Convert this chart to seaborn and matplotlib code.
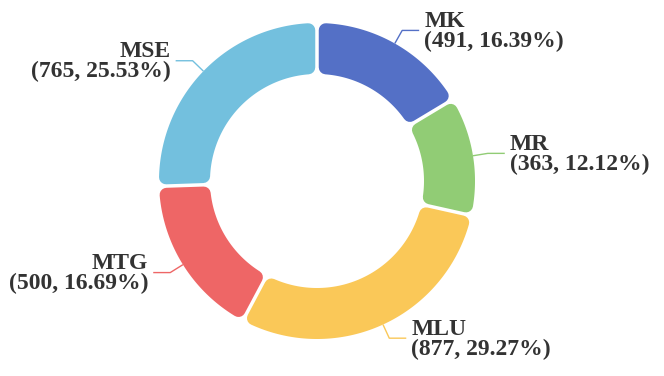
import numpy as np
import matplotlib
matplotlib.use('Agg')
import matplotlib.pyplot as plt
import seaborn as sns
from matplotlib.patches import Polygon

categories = ['MK', 'MR', 'MLU', 'MTG', 'MSE']
values = [491, 363, 877, 500, 765]
colors = ['#5470c6', '#91cc75', '#fac858', '#ee6666', '#73c0de']

sns.set_theme(style='white')
plt.rcParams['font.family'] = ['Liberation Serif', 'DejaVu Serif']

W, H = 664, 376
fig = plt.figure(figsize=(W / 100, H / 100), dpi=100)
ax = fig.add_axes([0, 0, 1, 1])

cx, cy = 317, H - 181
Ro, Ri = 158, 107
wedges, _ = ax.pie(values, colors=colors, startangle=90, counterclock=False,
                   radius=Ro, center=(cx, cy), frame=True,
                   wedgeprops=dict(width=Ro - Ri))
ax.set_xlim(0, W)
ax.set_ylim(0, H)
ax.set_aspect('equal')
ax.axis('off')

r = 7.0      # corner radius (px)
g = 3.5      # gap (px)
d = g / 2 + r
ro, ri = Ro - r, Ri + r
px2pt = 72 / 100

total = sum(values)
for w, c, name, v in zip(wedges, colors, categories, values):
    t1, t2 = np.radians(w.theta1), np.radians(w.theta2)
    w.set_visible(False)
    ao1, ao2 = t1 + np.arcsin(d / ro), t2 - np.arcsin(d / ro)
    ai1, ai2 = t1 + np.arcsin(d / ri), t2 - np.arcsin(d / ri)
    a_out = np.linspace(ao1, ao2, 120)
    a_in = np.linspace(ai2, ai1, 120)
    pts = np.vstack([
        np.column_stack([cx + ro * np.cos(a_out), cy + ro * np.sin(a_out)]),
        np.column_stack([cx + ri * np.cos(a_in), cy + ri * np.sin(a_in)]),
    ])
    ax.add_patch(Polygon(pts, closed=True, facecolor=c, edgecolor=c,
                         linewidth=2 * r * px2pt, joinstyle='round', zorder=2))

    # leader line
    tm = (t1 + t2) / 2
    sx, sy = cx + Ro * np.cos(tm), cy + Ro * np.sin(tm)
    ex, ey = cx + (Ro + 15) * np.cos(tm), cy + (Ro + 15) * np.sin(tm)
    side = 1 if np.cos(tm) >= 0 else -1
    hx = ex + side * 17
    ax.plot([sx, ex, hx], [sy, ey, ey], color=c, lw=1.0, zorder=1,
            solid_capstyle='butt')
    pct = v / total * 100
    ax.text(hx + side * 5, ey - 1, f'{name}\n({v}, {pct:.2f}%)',
            ha='left' if side > 0 else 'right', va='center',
            fontsize=17, fontweight='bold', color='#333333',
            linespacing=0.95, multialignment='left' if side > 0 else 'right')

fig.savefig('out.png', dpi=100, facecolor='white')
